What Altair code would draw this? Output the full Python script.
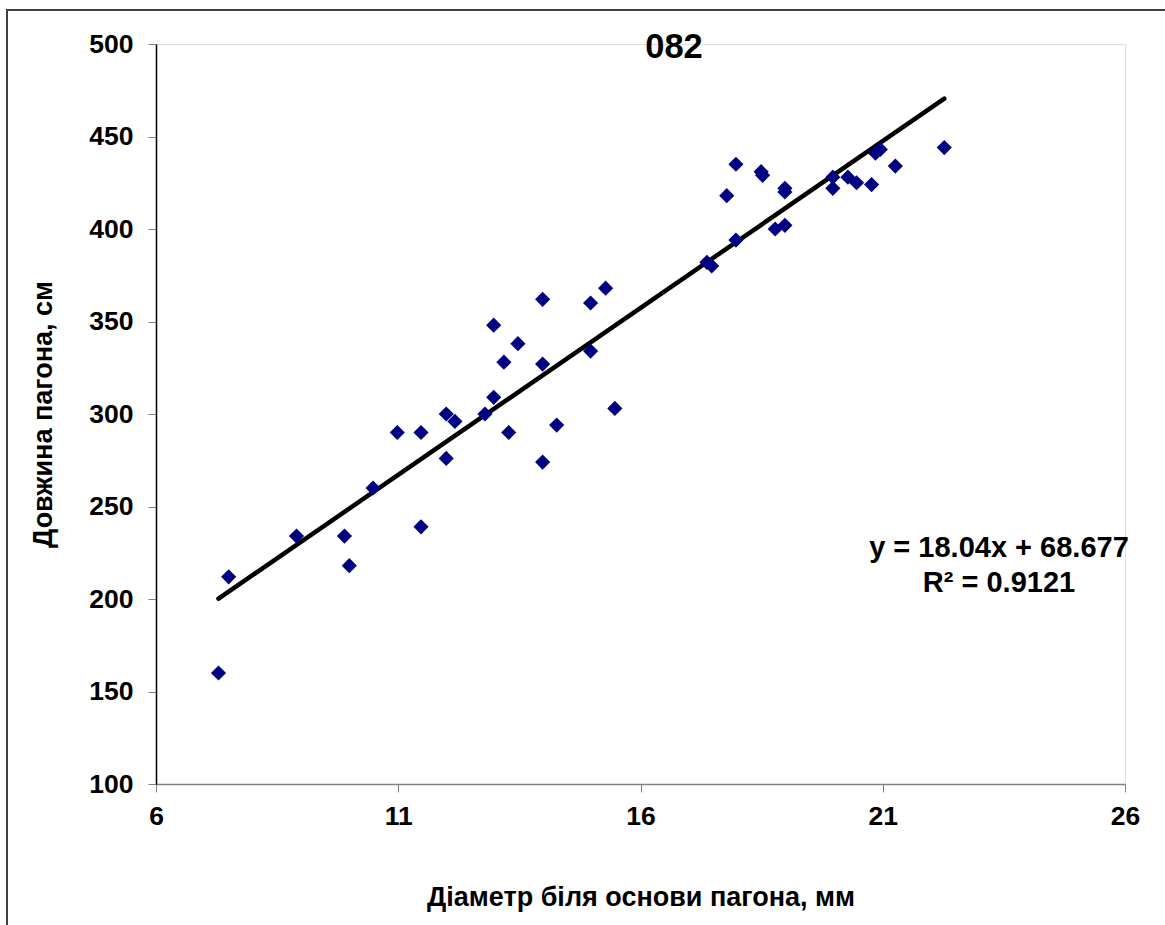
import altair as alt
import pandas as pd

# Data
diameter = [7.29, 7.50, 8.90, 9.89, 9.99, 10.48, 10.98, 11.47, 11.47, 11.99,
            11.99, 12.17, 12.79, 12.97, 12.97, 13.18, 13.28, 13.47, 13.98, 13.98,
            13.98, 14.27, 14.97, 14.97, 15.28, 15.47, 17.37, 17.47, 17.78, 17.97,
            17.97, 18.49, 18.52, 18.78, 18.98, 18.98, 18.98, 19.97, 19.97, 20.28,
            20.46, 20.77, 20.85, 20.95, 21.26, 22.27]
length = [160, 212, 234, 234, 218, 260, 290, 290, 239, 300,
          276, 296, 300, 309, 348, 328, 290, 338, 362, 327,
          274, 294, 360, 334, 368, 303, 382, 380, 418, 394,
          435, 431, 429, 400, 422, 420, 402, 422, 428, 428,
          425, 424, 441, 443, 434, 444]

slope = 18.04
intercept = 68.677
equation_text = "y = 18.04x + 68.677"
r2_text = "R² = 0.9121"
title_text = "082"
x_title = "Діаметр біля основи пагона, мм"
y_title = "Довжина пагона, см"
x_ticks = [6, 11, 16, 21, 26]
y_ticks = [100, 150, 200, 250, 300, 350, 400, 450, 500]

FONT = "Liberation Sans"

df = pd.DataFrame({"d": diameter, "l": length})
trend = pd.DataFrame({"d": [min(diameter), max(diameter)]})

W, H = 969, 740

xscale = alt.Scale(domain=[6, 26], nice=False, zero=False)
yscale = alt.Scale(domain=[100, 500], nice=False, zero=False)

xaxis = alt.Axis(
    values=x_ticks, grid=False, title=x_title,
    domainColor="#808080", tickColor="#808080", tickSize=8, domainWidth=1.5,
    labelFont=FONT, labelFontSize=26.5, labelFontWeight="bold", labelColor="black",
    labelPadding=11, labelFlush=False,
    titleFont=FONT, titleFontSize=27, titleFontWeight="bold", titleColor="black",
    titleY=121, titleBaseline="alphabetic",
)
yaxis = alt.Axis(
    values=y_ticks, grid=False, title=y_title,
    domainColor="black", tickColor="#808080", tickSize=8, domainWidth=1.5,
    labelFont=FONT, labelFontSize=26.5, labelFontWeight="bold", labelColor="black",
    labelPadding=15, labelFlush=False,
    titleFont=FONT, titleFontSize=27, titleFontWeight="bold", titleColor="black",
    titleX=-105, titleY=H / 2, titleAngle=-90, titleBaseline="alphabetic",
    titleAlign="center",
)

points = alt.Chart(df).mark_point(
    shape="diamond", filled=True, size=230, color="#000080", opacity=1
).encode(
    x=alt.X("d:Q", scale=xscale, axis=xaxis),
    y=alt.Y("l:Q", scale=yscale, axis=yaxis),
)

line = alt.Chart(trend).transform_calculate(
    l=f"{slope} * datum.d + {intercept}"
).mark_line(color="black", strokeWidth=4.5, strokeCap="round").encode(
    x=alt.X("d:Q", scale=xscale),
    y=alt.Y("l:Q", scale=yscale),
)

def label(txt, size, x, y):
    return alt.Chart(pd.DataFrame({"t": [txt]})).mark_text(
        font=FONT, fontSize=size, fontWeight="bold", color="black",
        align="center", baseline="alphabetic"
    ).encode(text="t:N", x=alt.value(x), y=alt.value(y))

eq1 = label(equation_text, 29, 843, 513)
eq2 = label(r2_text, 29, 843, 548)
ttl = label(title_text, 34.5, 518, 14)

border = alt.Chart(pd.DataFrame({"a": [0]})).mark_rect(
    fill=None, stroke="#404040", strokeWidth=2
).encode(
    x=alt.value(7 - 156), y=alt.value(10 - 44),
    x2=alt.value(1200 - 156), y2=alt.value(1000 - 44),
)

chart = alt.layer(border, line, points, eq1, eq2, ttl).properties(
    width=W, height=H,
    autosize=alt.AutoSizeParams(type="none"),
    padding={"left": 156, "top": 44, "right": 40, "bottom": 141},
).configure_view(stroke=None).configure(background="white")

chart.save("out.html", embed_options={"renderer": "svg", "actions": False})
